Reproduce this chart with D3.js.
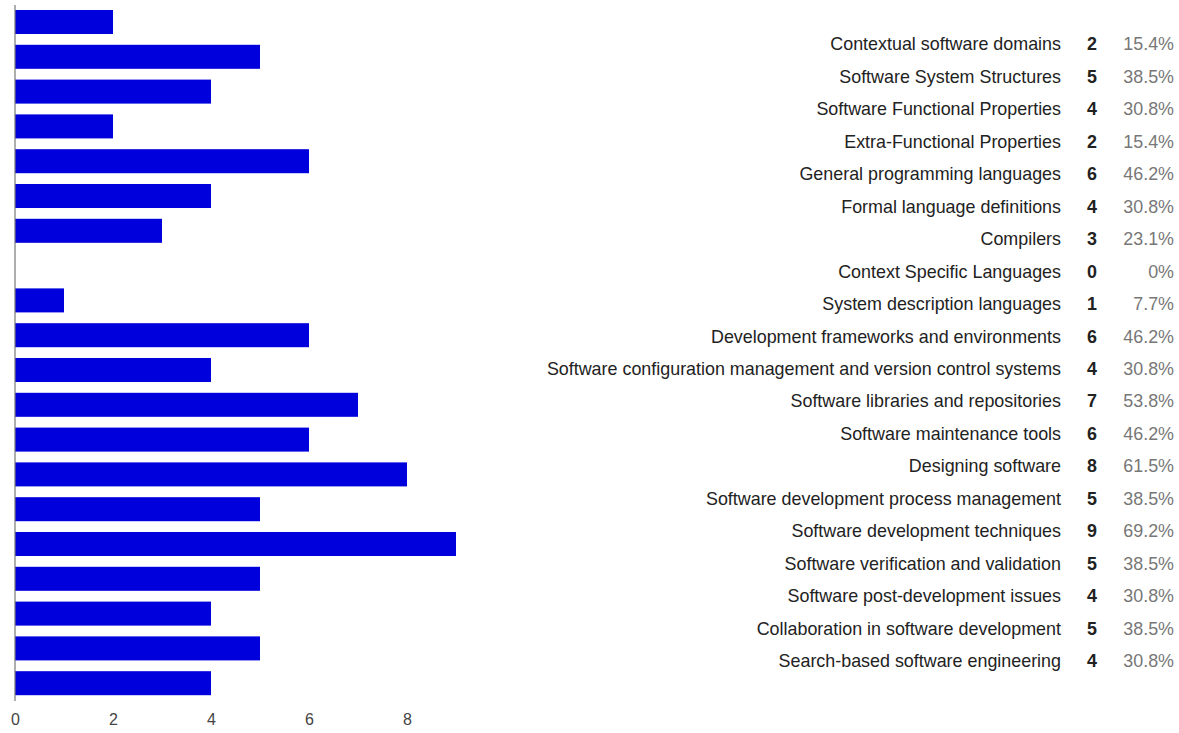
<!DOCTYPE html>
<html><head><meta charset="utf-8">
<script src="https://cdn.jsdelivr.net/npm/d3@7"></script>
<style>body{margin:0;background:#fff}svg{display:block;font-family:"Liberation Sans",Arial,sans-serif}</style>
</head><body>
<svg id="c" width="1179" height="733"></svg>
<script>
const categories = ["Contextual software domains","Software System Structures","Software Functional Properties","Extra-Functional Properties","General programming languages","Formal language definitions","Compilers","Context Specific Languages","System description languages","Development frameworks and environments","Software configuration management and version control systems","Software libraries and repositories","Software maintenance tools","Designing software","Software development process management","Software development techniques","Software verification and validation","Software post-development issues","Collaboration in software development","Search-based software engineering"];
const counts = [2,5,4,2,6,4,3,0,1,6,4,7,6,8,5,9,5,4,5,4];
const percents = ["15.4%","38.5%","30.8%","15.4%","46.2%","30.8%","23.1%","0%","7.7%","46.2%","30.8%","53.8%","46.2%","61.5%","38.5%","69.2%","38.5%","30.8%","38.5%","30.8%"];
const xTicks = [0,2,4,6,8];

const svg = d3.select("#c");
const x = d3.scaleLinear().domain([0,9]).range([15,456]);
const y = d3.scaleBand().domain(categories).range([4.6,700.6]).paddingInner(0.31).paddingOuter(0.155);

svg.append("g").selectAll("rect").data(categories).join("rect")
  .attr("x", x(0)).attr("y", d=>y(d))
  .attr("width", (d,i)=>x(counts[i])-x(0)).attr("height", y.bandwidth())
  .attr("fill","#0000dd");

svg.append("line").attr("x1",15).attr("x2",15).attr("y1",5).attr("y2",701)
  .attr("stroke","#777").attr("stroke-width",1.2);

const ax = svg.append("g").attr("transform","translate(0,701)")
  .call(d3.axisBottom(x).tickValues(xTicks).tickSize(0).tickPadding(13).tickFormat(d3.format("d")));
ax.select(".domain").remove();
ax.selectAll("text").attr("font-size",16).attr("fill","#444").attr("font-family","Liberation Sans, Arial, sans-serif");

const ly = d3.scalePoint().domain(categories).range([44,661]);
const rows = svg.append("g").selectAll("g").data(categories).join("g")
  .attr("transform", d=>`translate(0,${ly(d)})`);
rows.append("text").attr("x",1061).attr("dy","0.35em").attr("text-anchor","end")
  .attr("font-size",17.9).attr("fill","#222").text(d=>d);
rows.append("text").attr("x",1097).attr("dy","0.35em").attr("text-anchor","end")
  .attr("font-size",17.9).attr("font-weight","bold").attr("fill","#222").text((d,i)=>counts[i]);
rows.append("text").attr("x",1174).attr("dy","0.35em").attr("text-anchor","end")
  .attr("font-size",17.9).attr("fill","#777").text((d,i)=>percents[i]);
</script>
</body></html>
